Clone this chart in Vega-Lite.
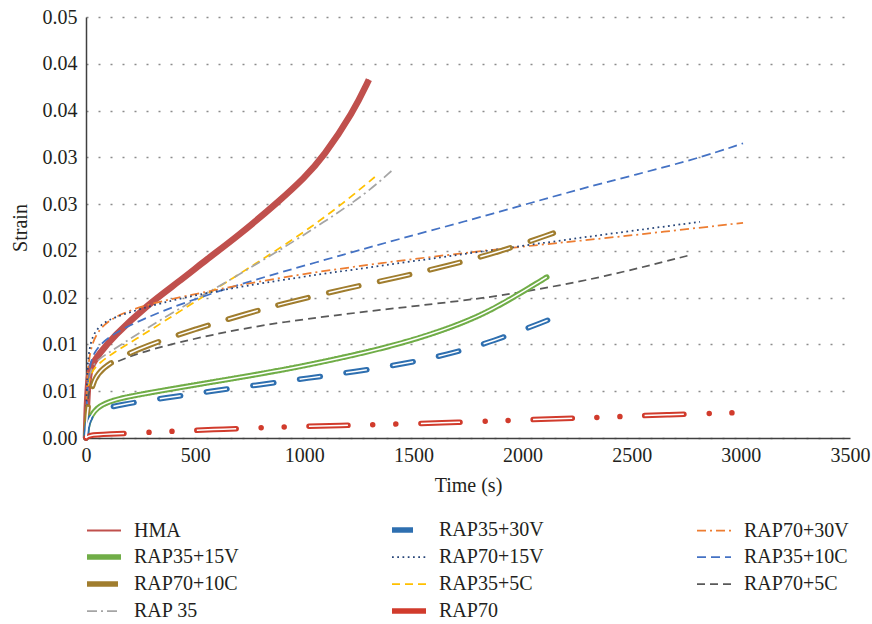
{
  "$schema": "https://vega.github.io/schema/vega-lite/v6.json",
  "width": 764,
  "height": 421,
  "autosize": {"type": "none"},
  "padding": {"left": 86, "top": 17, "right": 22, "bottom": 186},
  "background": "white",
  "config": {
    "view": {"stroke": null},
    "font": "Liberation Serif",
    "axis": {"labelFont": "Liberation Serif", "titleFont": "Liberation Serif", "labelFontSize": 20, "titleFontSize": 20, "labelColor": "#231f20", "titleColor": "#231f20", "titleFontWeight": "normal", "domainColor": "#404040", "domainWidth": 1.5, "ticks": false, "labelFlush": false},
    "legend": {"padding": 8, "orient": "bottom", "direction": "horizontal", "columns": 3, "gridAlign": "all", "symbolType": "M-1,0L1,0", "symbolSize": 1156, "labelFont": "Liberation Serif", "labelFontSize": 20, "labelColor": "#231f20", "columnPadding": 142, "rowPadding": 5, "labelOffset": 20, "offset": 17}
  },
  "data": {"values": [
    {"series":"HMA","t":0,"s":0},{"series":"HMA","t":3,"s":0.003},{"series":"HMA","t":10,"s":0.006},{"series":"HMA","t":18,"s":0.0076},{"series":"HMA","t":64,"s":0.0091},{"series":"HMA","t":124,"s":0.0108},{"series":"HMA","t":279,"s":0.0142},{"series":"HMA","t":431,"s":0.0168},{"series":"HMA","t":553,"s":0.0191},{"series":"HMA","t":692,"s":0.0215},{"series":"HMA","t":889,"s":0.0254},{"series":"HMA","t":1000,"s":0.0278},{"series":"HMA","t":1086,"s":0.03},{"series":"HMA","t":1224,"s":0.0348},{"series":"HMA","t":1296,"s":0.0383},

    {"series":"RAP35+5C","t":0,"s":0},{"series":"RAP35+5C","t":5,"s":0.005},{"series":"RAP35+5C","t":20,"s":0.007},{"series":"RAP35+5C","t":60,"s":0.008},{"series":"RAP35+5C","t":124,"s":0.0091},{"series":"RAP35+5C","t":232,"s":0.0106},{"series":"RAP35+5C","t":353,"s":0.0124},{"series":"RAP35+5C","t":508,"s":0.0147},{"series":"RAP35+5C","t":674,"s":0.0171},{"series":"RAP35+5C","t":828,"s":0.0194},{"series":"RAP35+5C","t":1012,"s":0.0222},{"series":"RAP35+5C","t":1179,"s":0.0251},{"series":"RAP35+5C","t":1323,"s":0.0279},

    {"series":"RAP 35","t":0,"s":0},{"series":"RAP 35","t":5,"s":0.006},{"series":"RAP 35","t":30,"s":0.008},{"series":"RAP 35","t":96,"s":0.009},{"series":"RAP 35","t":188,"s":0.0104},{"series":"RAP 35","t":353,"s":0.0128},{"series":"RAP 35","t":508,"s":0.0149},{"series":"RAP 35","t":660,"s":0.0169},{"series":"RAP 35","t":738,"s":0.018},{"series":"RAP 35","t":889,"s":0.0201},{"series":"RAP 35","t":1086,"s":0.023},{"series":"RAP 35","t":1287,"s":0.0262},{"series":"RAP 35","t":1402,"s":0.0286},

    {"series":"RAP35+10C","t":0,"s":0},{"series":"RAP35+10C","t":5,"s":0.0065},{"series":"RAP35+10C","t":32,"s":0.0094},{"series":"RAP35+10C","t":124,"s":0.0112},{"series":"RAP35+10C","t":279,"s":0.0129},{"series":"RAP35+10C","t":431,"s":0.0143},{"series":"RAP35+10C","t":660,"s":0.0161},{"series":"RAP35+10C","t":889,"s":0.0177},{"series":"RAP35+10C","t":1195,"s":0.0197},{"series":"RAP35+10C","t":1438,"s":0.0213},{"series":"RAP35+10C","t":1745,"s":0.0232},{"series":"RAP35+10C","t":2048,"s":0.0252},{"series":"RAP35+10C","t":2355,"s":0.0272},{"series":"RAP35+10C","t":2781,"s":0.0297},{"series":"RAP35+10C","t":3010,"s":0.0315},

    {"series":"RAP70+30V","t":0,"s":0},{"series":"RAP70+30V","t":3,"s":0.006},{"series":"RAP70+30V","t":18,"s":0.0097},{"series":"RAP70+30V","t":64,"s":0.0119},{"series":"RAP70+30V","t":156,"s":0.0133},{"series":"RAP70+30V","t":300,"s":0.0144},{"series":"RAP70+30V","t":500,"s":0.0154},{"series":"RAP70+30V","t":889,"s":0.0172},{"series":"RAP70+30V","t":1347,"s":0.0187},{"series":"RAP70+30V","t":1805,"s":0.0200},{"series":"RAP70+30V","t":2355,"s":0.0213},{"series":"RAP70+30V","t":2630,"s":0.0220},{"series":"RAP70+30V","t":3010,"s":0.023},

    {"series":"RAP70+15V","t":0,"s":0},{"series":"RAP70+15V","t":3,"s":0.007},{"series":"RAP70+15V","t":18,"s":0.0105},{"series":"RAP70+15V","t":64,"s":0.0122},{"series":"RAP70+15V","t":150,"s":0.0131},{"series":"RAP70+15V","t":350,"s":0.0145},{"series":"RAP70+15V","t":570,"s":0.0156},{"series":"RAP70+15V","t":889,"s":0.0169},{"series":"RAP70+15V","t":1347,"s":0.0184},{"series":"RAP70+15V","t":1897,"s":0.0202},{"series":"RAP70+15V","t":2355,"s":0.0217},{"series":"RAP70+15V","t":2813,"s":0.0231},

    {"series":"RAP70+5C","t":0,"s":0},{"series":"RAP70+5C","t":5,"s":0.005},{"series":"RAP70+5C","t":50,"s":0.0073},{"series":"RAP70+5C","t":156,"s":0.0083},{"series":"RAP70+5C","t":279,"s":0.0094},{"series":"RAP70+5C","t":582,"s":0.0111},{"series":"RAP70+5C","t":889,"s":0.0124},{"series":"RAP70+5C","t":1347,"s":0.0137},{"series":"RAP70+5C","t":1818,"s":0.0149},{"series":"RAP70+5C","t":2048,"s":0.0158},{"series":"RAP70+5C","t":2355,"s":0.0171},{"series":"RAP70+5C","t":2776,"s":0.0196},

    {"series":"RAP70+10C","t":0,"s":0},{"series":"RAP70+10C","t":5,"s":0.003},{"series":"RAP70+10C","t":27,"s":0.0055},{"series":"RAP70+10C","t":50,"s":0.0069},{"series":"RAP70+10C","t":124,"s":0.0083},{"series":"RAP70+10C","t":279,"s":0.0099},{"series":"RAP70+10C","t":508,"s":0.0117},{"series":"RAP70+10C","t":738,"s":0.0133},{"series":"RAP70+10C","t":889,"s":0.0143},{"series":"RAP70+10C","t":1195,"s":0.016},{"series":"RAP70+10C","t":1438,"s":0.0172},{"series":"RAP70+10C","t":1653,"s":0.0184},{"series":"RAP70+10C","t":1897,"s":0.0199},{"series":"RAP70+10C","t":2141,"s":0.0219},

    {"series":"RAP35+15V","t":0,"s":0},{"series":"RAP35+15V","t":5,"s":0.0012},{"series":"RAP35+15V","t":18,"s":0.0022},{"series":"RAP35+15V","t":50,"s":0.0033},{"series":"RAP35+15V","t":124,"s":0.0041},{"series":"RAP35+15V","t":279,"s":0.0048},{"series":"RAP35+15V","t":582,"s":0.006},{"series":"RAP35+15V","t":889,"s":0.0072},{"series":"RAP35+15V","t":1118,"s":0.0083},{"series":"RAP35+15V","t":1347,"s":0.0095},{"series":"RAP35+15V","t":1576,"s":0.011},{"series":"RAP35+15V","t":1805,"s":0.013},{"series":"RAP35+15V","t":1956,"s":0.015},{"series":"RAP35+15V","t":2111,"s":0.0172},

    {"series":"RAP35+30V","t":0,"s":0},{"series":"RAP35+30V","t":5,"s":0.0015},{"series":"RAP35+30V","t":30,"s":0.0028},{"series":"RAP35+30V","t":156,"s":0.0036},{"series":"RAP35+30V","t":371,"s":0.0043},{"series":"RAP35+30V","t":568,"s":0.005},{"series":"RAP35+30V","t":797,"s":0.0057},{"series":"RAP35+30V","t":1018,"s":0.0064},{"series":"RAP35+30V","t":1232,"s":0.0071},{"series":"RAP35+30V","t":1452,"s":0.0079},{"series":"RAP35+30V","t":1653,"s":0.0089},{"series":"RAP35+30V","t":1864,"s":0.0103},{"series":"RAP35+30V","t":2116,"s":0.0126},

    {"series":"RAP70","t":0,"s":0},{"series":"RAP70","t":10,"s":0.0003},{"series":"RAP70","t":96,"s":0.0004},{"series":"RAP70","t":279,"s":0.0006},{"series":"RAP70","t":582,"s":0.0009},{"series":"RAP70","t":903,"s":0.0012},{"series":"RAP70","t":1118,"s":0.0013},{"series":"RAP70","t":1622,"s":0.0016},{"series":"RAP70","t":2186,"s":0.0021},{"series":"RAP70","t":2355,"s":0.0022},{"series":"RAP70","t":2662,"s":0.0025},{"series":"RAP70","t":2978,"s":0.0027}
  ]},
  "encoding": {
    "x": {"field": "t", "type": "quantitative", "scale": {"domain": [0, 3500], "nice": false},
      "axis": {"title": "Time (s)", "values": [0,500,1000,1500,2000,2500,3000,3500], "format": "d", "grid": false, "labelPadding": 7, "titlePadding": 10}},
    "y": {"field": "s", "type": "quantitative", "scale": {"domain": [0, 0.045], "nice": false},
      "axis": {"title": "Strain", "values": [0,0.005,0.01,0.015,0.02,0.025,0.03,0.035,0.04,0.045], "labelExpr": "format(max(0, ceil(datum.value*100 - 0.000001))/100, '.2f')", "grid": true, "gridDash": [2, 10], "gridColor": "#8c8c8c", "gridWidth": 1.5, "labelPadding": 9, "titlePadding": 12}}
  },
  "layer": [
    {
      "transform": [{"filter": "datum.series === 'HMA'"}],
      "mark": {"type": "line", "color": "#c0504d", "strokeWidth": 6.5, "interpolate": "basis", "strokeCap": "butt"}
    },
    {
      "transform": [{"filter": "indexof(['RAP35+15V','RAP70+10C','RAP35+30V','RAP70'], datum.series) < 0"}],
      "mark": {"type": "line", "interpolate": "basis", "strokeCap": "butt", "strokeWidth": 1.75},
      "encoding": {
        "color": {"field": "series", "type": "nominal",
          "scale": {"domain": ["HMA","RAP35+30V","RAP70+30V","RAP35+15V","RAP70+15V","RAP35+10C","RAP70+10C","RAP35+5C","RAP70+5C","RAP 35","RAP70"],
                    "range": ["#c0504d","#2e6fb0","#ed7d31","#70ad47","#264478","#4472c4","#a07d2e","#ffc000","#595959","#a5a5a5","#d13b2c"]},
          "legend": {"title": null, "encode": {"symbols": {"update": {"strokeWidth": {"signal": "indexof(['RAP35+15V','RAP70+10C','RAP35+30V','RAP70'], datum.value) >= 0 ? 5.5 : (datum.value === 'HMA' ? 2 : 1.75)"}}}}}},
        "strokeDash": {"field": "series", "type": "nominal",
          "scale": {"domain": ["HMA","RAP35+30V","RAP70+30V","RAP35+15V","RAP70+15V","RAP35+10C","RAP70+10C","RAP35+5C","RAP70+5C","RAP 35","RAP70"],
                    "range": [[1,0],[21,26],[9,4,2,4],[1,0],[1.75,3.5],[9,5],[31,21],[8,5],[8,5],[10,4,2,4],[39,25,0.01,23,0.01,25]]},
          "legend": {"title": null, "encode": {"symbols": {"update": {"strokeWidth": {"signal": "indexof(['RAP35+15V','RAP70+10C','RAP35+30V','RAP70'], datum.value) >= 0 ? 5.5 : (datum.value === 'HMA' ? 2 : 1.75)"}}}}}}
      }
    },
    {
      "transform": [{"filter": "indexof(['RAP35+15V','RAP70+10C','RAP35+30V','RAP70'], datum.series) >= 0"}],
      "mark": {"type": "line", "interpolate": "basis", "strokeCap": "round", "strokeWidth": 5.5},
      "encoding": {
        "color": {"field": "series", "type": "nominal"},
        "strokeDash": {"field": "series", "type": "nominal"}
      }
    },
    {
      "transform": [{"filter": "datum.series === 'RAP35+15V'"}],
      "mark": {"type": "line", "color": "white", "strokeWidth": 1.5, "interpolate": "basis", "strokeCap": "butt"}
    },
    {
      "transform": [{"filter": "datum.series === 'RAP70+10C'"}],
      "mark": {"type": "line", "color": "white", "strokeWidth": 1.5, "interpolate": "basis", "strokeCap": "butt", "strokeDash": [31, 21]}
    },
    {
      "transform": [{"filter": "datum.series === 'RAP35+30V'"}],
      "mark": {"type": "line", "color": "white", "strokeWidth": 1.5, "interpolate": "basis", "strokeCap": "butt", "strokeDash": [21, 26]}
    },
    {
      "transform": [{"filter": "datum.series === 'RAP70'"}],
      "mark": {"type": "line", "color": "white", "strokeWidth": 1.5, "interpolate": "basis", "strokeCap": "butt", "strokeDash": [39, 73]}
    }
  ]
}
